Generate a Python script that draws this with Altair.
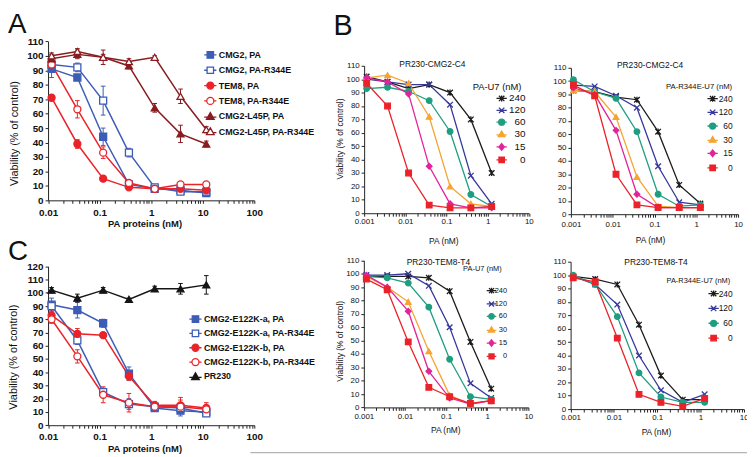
import altair as alt
import pandas as pd

# ------------------------------------------------------------------ data
# Panel A  (PA protein concentration, nM)
A_X = [0.0117, 0.037, 0.117, 0.37, 1.17, 3.7, 11.7]
A_SERIES = ["CMG2, PA", "CMG2, PA-R344E", "TEM8, PA", "TEM8, PA-R344E",
            "CMG2-L45P, PA", "CMG2-L45P, PA-R344E"]
A_CMG2_PA = [91, 85, 44, 11, 8, 7, 5]
A_CMG2_PA_ERR = [6, 2, 6, 1, 1, 1, 1]
A_CMG2_R344E = [94, 92, 69, 33, 9, 6, 6]
A_CMG2_R344E_ERR = [3, 3, 10, 3, 1, 1, 1]
A_TEM8_PA = [71, 39, 15, 9, 8, 8, 7]
A_TEM8_PA_ERR = [2, 3, 2, 1, 1, 1, 1]
A_TEM8_R344E = [94, 63, 33, 12, 8, 11, 11]
A_TEM8_R344E_ERR = [3, 6, 4, 1, 1, 1, 1]
A_L45P_PA = [98, 101, 99, 93, 64, 46, 39]
A_L45P_PA_ERR = [3, 3, 2, 2, 3, 6, 2]
A_L45P_R344E = [100, 103, 99, 96, 99, 72, 49]
A_L45P_R344E_ERR = [2, 2, 5, 2, 1, 5, 2]

# Panel C
C_X = [0.0117, 0.037, 0.117, 0.37, 1.17, 3.7, 11.7]
C_SERIES = ["CMG2-E122K-a, PA", "CMG2-E122K-a, PA-R344E", "CMG2-E122K-b, PA",
            "CMG2-E122K-b, PA-R344E", "PR230"]
C_A_PA = [91, 87, 77, 39, 13, 11, 10]
C_A_PA_ERR = [5, 6, 3, 5, 2, 4, 2]
C_A_R344E = [90, 64, 25, 16, 14, 13, 9]
C_A_R344E_ERR = [3, 3, 3, 4, 2, 2, 2]
C_B_PA = [83, 69, 68, 37, 15, 15, 13]
C_B_PA_ERR = [4, 4, 1, 3, 3, 6, 4]
C_B_R344E = [80, 52, 23, 17, 14, 14, 12]
C_B_R344E_ERR = [3, 5, 6, 7, 2, 5, 3]
C_PR230 = [102, 96, 102, 95, 103, 103, 106]
C_PR230_ERR = [2, 3, 2, 1, 2, 4, 7]

# Panel B  (PA, nM) ; series = U7 concentration (nM)
B_X = [0.00115, 0.0037, 0.012, 0.038, 0.122, 0.39, 1.25]
B_SERIES = ["240", "120", "60", "30", "15", "0"]
B_SERIES_BR = ["240", "120", "60", "0"]

TL_240 = [102, 98, 93, 96, 90, 70, 30]
TL_120 = [100, 98, 96, 96, 81, 28, 7]
TL_60 = [93, 94, 91, 84, 61, 14, 5]
TL_30 = [101, 103, 97, 72, 20, 7, 5]
TL_15 = [101, 98, 89, 35, 7, 4, 4]
TL_0 = [97, 80, 30, 6, 4, 4, 5]

TR_240 = [93, 92, 88, 86, 62, 22, 8]
TR_120 = [97, 96, 89, 80, 36, 9, 7]
TR_60 = [101, 92, 87, 62, 15, 6, 7]
TR_30 = [93, 92, 73, 28, 6, 5, 5]
TR_15 = [95, 90, 63, 15, 5, 5, 5]
TR_0 = [97, 89, 30, 7, 5, 5, 5]

BL_240 = [98, 98, 98, 97, 87, 49, 14]
BL_120 = [99, 99, 100, 91, 60, 18, 7]
BL_60 = [98, 97, 93, 75, 36, 8, 6]
BL_30 = [98, 90, 79, 42, 9, 2.5, 5]
BL_15 = [99, 90, 72, 27, 7, 2.5, 5]
BL_0 = [96, 88, 49, 15, 8, 3, 5]

BR_240 = [99, 97, 93, 63, 25, 7, 7]
BR_120 = [99, 93, 78, 40, 14, 5, 11]
BR_60 = [100, 93, 69, 27, 9, 5, 5]
BR_0 = [98, 95, 53, 11, 5, 2, 8]

Y110 = list(range(0, 111, 10))
Y120 = list(range(0, 121, 10))

# ------------------------------------------------------------------ styles
FONT = "Liberation Sans, Arial, sans-serif"
NARROW = "Liberation Sans Narrow, Arial Narrow, Liberation Sans, sans-serif"
BLUE = "#3c5cb6"
RED = "#ea2328"
MAROON = "#8a1b20"
BLACK = "#151515"
B_COLORS = ["#1c1c1c", "#36389c", "#1e9e80", "#f5a432", "#e2239b", "#eb2229"]
STAR = "M-1,-1L1,1M-1,1L1,-1M0,-1.1L0,1.1"
XMARK = "M-1,-1L1,1M-1,1L1,-1"
CAP = "M-1,0L1,0"
B_SHAPES = [STAR, XMARK, "circle", "triangle-up", "diamond", "square"]

# legend symbols: marker with a short line on each side
W = "M-1.9,0L-1,0M1,0L1.9,0"
SQ_L = W + "M-1,-1L1,-1L1,1L-1,1Z"
CI_L = W + "M-1.1,0A1.1,1.1,0,1,0,1.1,0A1.1,1.1,0,1,0,-1.1,0Z"
TRI_L = "M-1.9,0.3L-0.75,0.3M0.75,0.3L1.9,0.3M0,-1.15L1.2,0.95L-1.2,0.95Z"
DIA_L = W + "M0,-1.25L1,0L0,1.25L-1,0Z"
STAR_L = "M-1.9,0L1.9,0M-1,-1L1,1M-1,1L1,-1M0,-1.1L0,1.1"
X_L = "M-1.9,0L1.9,0M-1,-1L1,1M-1,1L1,-1"
B_LEG_SHAPES = [STAR_L, X_L, CI_L, TRI_L, DIA_L, SQ_L]

LBL = "indexof([0.001,0.01,0.1,1,10,100], datum.value) >= 0 ? datum.label : ''"


def long_df(xs, names, ys, errs=None):
    rows = []
    for i, (n, yv) in enumerate(zip(names, ys)):
        ev = errs[i] if errs else [0] * len(yv)
        for x, y, e in zip(xs, yv, ev):
            rows.append({"x": x, "y": y, "lo": y - e, "hi": y + e, "s": n})
    return pd.DataFrame(rows)


def x_axis(lo, hi, offset, title, tx, ty, lsize, lweight, lfont, tsize, tweight, pad):
    vals = [float(f"{m}e{e}") for e in range(lo, hi) for m in range(1, 10)]
    vals.append(float(f"1e{hi}"))
    return alt.Axis(orient="bottom", offset=offset, values=vals, format="~g",
                    labelExpr=LBL, labelOverlap=False, labelFlush=False, grid=False,
                    tickSize=3, tickColor="#222", domainColor="#222", tickWidth=1,
                    labelFont=lfont, labelFontSize=lsize, labelFontWeight=lweight,
                    labelColor="#111", labelPadding=pad,
                    title=title, titleX=tx, titleY=ty, titleBaseline="middle",
                    titleAlign="center", titleFont=FONT, titleFontSize=tsize,
                    titleFontWeight=tweight, titleColor="#111")


def y_axis(values, offset, lsize, lweight, lfont, title=None, tx=0, ty=0, tsize=10):
    kw = dict(orient="left", offset=offset, values=values, grid=False, tickSize=3,
              tickColor="#222", domainColor="#222", labelFont=lfont,
              labelFontSize=lsize, labelFontWeight=lweight, labelColor="#111",
              labelPadding=2, labelOverlap=False, labelFlush=False)
    if title:
        kw.update(title=title, titleX=tx, titleY=ty, titleBaseline="middle",
                  titleAlign="center", titleAngle=-90, titleFont=FONT,
                  titleFontSize=tsize, titleFontWeight="normal", titleColor="#111")
    else:
        kw.update(title=None)
    return alt.Axis(**kw)


def legend(x, y, lsize, weight, rowpad, symsize, font, offset, align="left"):
    return alt.Legend(orient="none", legendX=x, legendY=y, title=None,
                      labelFont=font, labelFontSize=lsize, labelFontWeight=weight,
                      labelColor="#111", rowPadding=rowpad, symbolSize=symsize,
                      symbolStrokeWidth=1.3, labelOffset=offset, padding=0,
                      labelLimit=300, labelAlign=align)


def panel(df, order, strokes, fills, shapes, leg_shapes, xdom, xrng, ydom, yrng,
          xaxis, yaxis, leg, msize, lw, errors):
    xs = alt.X("x:Q", scale=alt.Scale(type="log", domain=xdom, range=xrng), axis=xaxis)
    yscale = alt.Scale(domain=ydom, range=yrng, nice=False, zero=False)
    ys = alt.Y("y:Q", scale=yscale, axis=yaxis)
    stroke = alt.Stroke("s:N", scale=alt.Scale(domain=order, range=strokes), legend=None)
    fill = alt.Fill("s:N", scale=alt.Scale(domain=order, range=fills), legend=None)
    shape = alt.Shape("s:N", scale=alt.Scale(domain=order, range=shapes), legend=None)
    base = alt.Chart(df)
    layers = []
    if errors:
        layers.append(base.mark_rule(strokeWidth=1).encode(
            x=xs, y=alt.Y("lo:Q", scale=yscale, axis=yaxis), y2="hi:Q", stroke=stroke))
        layers.append(base.transform_fold(["lo", "hi"], as_=["end", "v"]).mark_point(
            shape=CAP, size=22, strokeWidth=1, filled=False, opacity=1).encode(
            x=xs, y=alt.Y("v:Q", scale=yscale, axis=yaxis), stroke=stroke))
    layers.append(base.mark_line(strokeWidth=lw).encode(x=xs, y=ys, stroke=stroke))
    layers.append(base.mark_point(filled=True, size=msize, strokeWidth=1.3,
                                  opacity=1).encode(x=xs, y=ys, stroke=stroke,
                                                    fill=fill, shape=shape))
    # legend-only layer (no rows drawn): markers with a line through them
    layers.append(base.transform_filter("false").mark_point(
        filled=True, size=msize, strokeWidth=1.3, opacity=1).encode(
        x=xs, y=ys,
        stroke=alt.Stroke("s:N", scale=alt.Scale(domain=order, range=strokes), legend=leg),
        fill=alt.Fill("s:N", scale=alt.Scale(domain=order, range=fills), legend=leg),
        shape=alt.Shape("s:N", scale=alt.Scale(domain=order, range=leg_shapes), legend=leg)))
    return alt.layer(*layers).resolve_scale(stroke="independent", fill="independent",
                                            shape="independent")


# ------------------------------------------------------------------ panels
dfA = long_df(A_X, A_SERIES,
              [A_CMG2_PA, A_CMG2_R344E, A_TEM8_PA, A_TEM8_R344E, A_L45P_PA, A_L45P_R344E],
              [A_CMG2_PA_ERR, A_CMG2_R344E_ERR, A_TEM8_PA_ERR, A_TEM8_R344E_ERR,
               A_L45P_PA_ERR, A_L45P_R344E_ERR])
pA = panel(dfA, A_SERIES,
           [BLUE, BLUE, RED, RED, MAROON, MAROON],
           [BLUE, "white", RED, "white", MAROON, "white"],
           ["square", "square", "circle", "circle", "triangle-up", "triangle-up"],
           [SQ_L, SQ_L, CI_L, CI_L, TRI_L, TRI_L],
           [0.01, 100], [40.5, 249], [0, 110], [192, 31.3],
           x_axis(-2, 2, -257, "PA proteins (nM)", 138, 23, 10, "bold", FONT, 9.5, "bold", 4),
           y_axis(Y110, -40.5, 10, "bold", FONT, "Viability (% of control)", -34, 124, 11),
           legend(200, 40.5, 9, "bold", 2.5, 42, FONT, 4), 50, 1.5, True)

dfC = long_df(C_X, C_SERIES, [C_A_PA, C_A_R344E, C_B_PA, C_B_R344E, C_PR230],
              [C_A_PA_ERR, C_A_R344E_ERR, C_B_PA_ERR, C_B_R344E_ERR, C_PR230_ERR])
pC = panel(dfC, C_SERIES,
           [BLUE, BLUE, RED, RED, BLACK],
           [BLUE, "white", RED, "white", BLACK],
           ["square", "square", "circle", "circle", "triangle-up"],
           [SQ_L, SQ_L, CI_L, CI_L, TRI_L],
           [0.01, 100], [40.5, 249], [0, 120], [419.3, 258.7],
           x_axis(-2, 2, -29.7, "PA proteins (nM)", 138, 24, 10, "bold", FONT, 9.5, "bold", 3),
           y_axis(Y120, -40.5, 10, "bold", FONT, "Viability (% of control)", -35, 350, 11),
           legend(185, 307.5, 9, "bold", 1.5, 42, FONT, 4), 50, 1.5, True)

dfTL = long_df(B_X, B_SERIES, [TL_240, TL_120, TL_60, TL_30, TL_15, TL_0])
pTL = panel(dfTL, B_SERIES, B_COLORS, B_COLORS, B_SHAPES, B_LEG_SHAPES,
            [0.001, 10], [360, 526.5], [0, 110], [205, 56],
            x_axis(-3, 1, -244, "PA (nM)", 440, 28, 8, "normal", NARROW, 8.5, "normal", 1),
            y_axis(Y110, -360, 8, "normal", NARROW, "Viability (% of control)", -25, 129.5, 8.5),
            legend(494, 84, 10, "normal", 0, 30, FONT, 19, "right"), 32, 1.3, False)

dfTR = long_df(B_X, B_SERIES, [TR_240, TR_120, TR_60, TR_30, TR_15, TR_0])
pTR = panel(dfTR, B_SERIES, B_COLORS, B_COLORS, B_SHAPES, B_LEG_SHAPES,
            [0.001, 10], [569, 738], [0, 110], [206, 58],
            x_axis(-3, 1, -243, "PA (nM)", 649, 26, 8, "normal", NARROW, 8.5, "normal", 3),
            y_axis(Y110, -569, 8, "normal", NARROW),
            legend(708, 85, 8.5, "normal", 1.8, 30, FONT, 16, "right"), 32, 1.3, False)

dfBL = long_df(B_X, B_SERIES, [BL_240, BL_120, BL_60, BL_30, BL_15, BL_0])
pBL = panel(dfBL, B_SERIES, B_COLORS, B_COLORS, B_SHAPES, B_LEG_SHAPES,
            [0.001, 10], [359.7, 526], [0, 110], [401.3, 252.7],
            x_axis(-3, 1, -47.7, "PA (nM)", 442, 22.7, 8, "normal", NARROW, 8.5, "normal", 2),
            y_axis(Y110, -359.7, 8, "normal", NARROW, "Viability (% of control)", -25, 334, 8.5),
            legend(485, 279.5, 7.5, "normal", 1.5, 26, FONT, 12, "right"), 32, 1.3, False)

BR_IDX = (0, 1, 2, 5)
dfBR = long_df(B_X, B_SERIES_BR, [BR_240, BR_120, BR_60, BR_0])
pBR = panel(dfBR, B_SERIES_BR, [B_COLORS[i] for i in BR_IDX],
            [B_COLORS[i] for i in BR_IDX], [B_SHAPES[i] for i in BR_IDX],
            [B_LEG_SHAPES[i] for i in BR_IDX],
            [0.001, 10], [568.7, 743.7], [0, 110], [403, 254],
            x_axis(-3, 1, -46, "PA (nM)", 655, 23, 8, "normal", NARROW, 8.5, "normal", 2),
            y_axis(Y110, -568.7, 8, "normal", NARROW),
            legend(709, 282, 8.5, "normal", 3, 30, FONT, 15, "right"), 32, 1.3, False)

# ------------------------------------------------------------------ annotations
ONE = pd.DataFrame({"k": [0]})


def label(text, x, y, size, align="center", baseline="middle", weight="normal", font=FONT):
    return alt.Chart(ONE).mark_text(text=text, align=align, baseline=baseline,
                                    fontSize=size, font=font, fontWeight=weight,
                                    color="#111").encode(x=alt.value(x), y=alt.value(y))


notes = [
    label("A", 0, 23, 28, align="left", baseline="alphabetic"),
    label("B", 329, 25, 29, align="left", baseline="alphabetic"),
    label("C", 0, 252, 28, align="left", baseline="alphabetic"),
    label("PR230-CMG2-C4", 429, 54, 8.5),
    label("PR230-CMG2-C4", 649, 55, 8.5),
    label("PR230-TEM8-T4", 435, 254, 8.5),
    label("PR230-TEM8-T4", 655, 254, 8.5),
    label("PA-U7 (nM)", 519, 77, 9.5, align="right"),
    label("PA-R344E-U7 (nM)", 732, 77, 7.8, align="right"),
    label("PA-U7 (nM)", 499, 261, 7.5, align="right"),
    label("PA-R344E-U7 (nM)", 730, 274, 7.5, align="right"),
]
sep = alt.Chart(ONE).mark_rule(color="#b4b4b4", strokeWidth=1.5).encode(
    x=alt.value(245), x2=alt.value(747), y=alt.value(447))

chart = alt.layer(pA, pC, pTL, pTR, pBL, pBR, *notes, sep).resolve_scale(
    x="independent", y="independent", stroke="independent", fill="independent",
    shape="independent"
).resolve_axis(x="independent", y="independent").properties(
    width=747, height=449, autosize=alt.AutoSizeParams(type="none"), padding=0
).configure_view(stroke=None)

chart.save("out.html", embed_options={"renderer": "svg", "actions": False})
